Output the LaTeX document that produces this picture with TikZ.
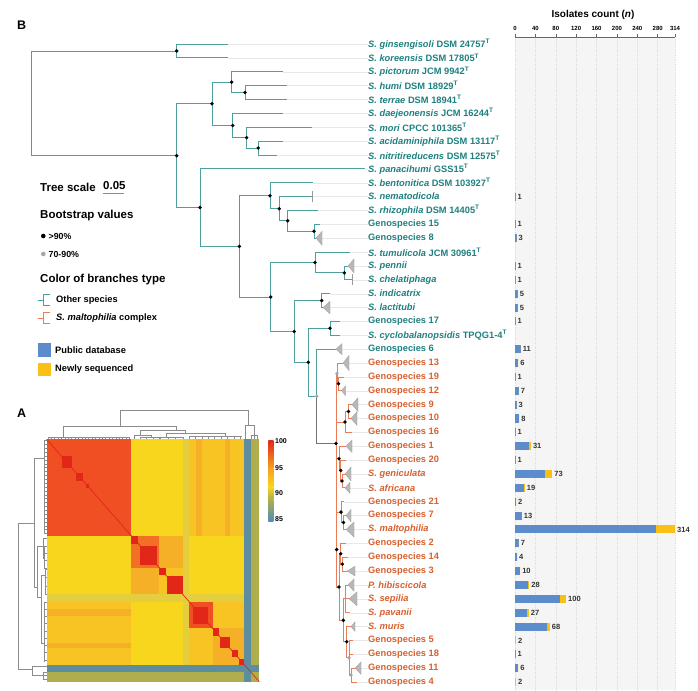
\documentclass[tikz,border=0pt]{standalone}
\usepackage{fontspec}
\setmainfont{Liberation Sans}
\usetikzlibrary{
    positioning,
    calc
}
% Colours
\definecolor{otherbr}{RGB}{78,160,158}
\definecolor{othertxt}{RGB}{30,128,126}
\definecolor{cplxbr}{RGB}{234,124,88}
\definecolor{cplxtxt}{RGB}{214,96,46}
\definecolor{pubblue}{RGB}{92,140,204}
\definecolor{newyellow}{RGB}{250,192,22}
\definecolor{hmred}{RGB}{240,78,35}
\definecolor{hmdeep}{RGB}{226,38,24}
\definecolor{hmorange}{RGB}{242,112,38}
\definecolor{hmorangelt}{RGB}{246,176,40}
\definecolor{hmamber}{RGB}{247,196,36}
\definecolor{hmyellow}{RGB}{249,214,30}
\definecolor{hmpale}{RGB}{228,206,62}
\definecolor{hmolive}{RGB}{176,174,76}
\definecolor{hmblue}{RGB}{92,142,160}
\definecolor{cbblue}{RGB}{80,140,190}
\definecolor{cborange}{RGB}{245,160,30}
\tikzset{
    % Tree
    other branch/.style={draw=otherbr,line width=.8pt},
    complex branch/.style={draw=cplxbr,line width=.7pt},
    stem branch/.style={draw=black!55,line width=.8pt},
    guide/.style={draw=black!9,line width=.3pt},
    collapsed/.style={fill=black!28,draw=black!40,line width=.25pt},
    %
    % Labels
    leaf label/.style={anchor=west},
    other label/.style={leaf label,text=othertxt},
    complex label/.style={leaf label,text=cplxtxt},
    count label/.style={anchor=west,text=black!80,font=\bfseries\fontsize{7.5}{8}\selectfont},
    tick label/.style={font=\bfseries\fontsize{6}{7}\selectfont},
    legend head/.style={anchor=west,font=\bfseries\fontsize{11.5}{13}\selectfont},
    legend item/.style={anchor=west,font=\bfseries\fontsize{9.3}{11}\selectfont},
    panel label/.style={font=\bfseries\fontsize{12.5}{14}\selectfont},
    %
    % Bars
    public bar/.style={fill=pubblue},
    new bar/.style={fill=newyellow},
    bar grid/.style={draw=black!12,line width=.4pt,dash pattern=on 1.5pt off 1pt},
    %
    % Heatmap
    dendro/.style={draw=black!45,line width=.4pt}
}
\tikzstyle{every node}=[font=\bfseries\fontsize{9.3}{11}\selectfont,inner sep=0pt]
\newcommand\bx{0.5096}
\newcommand\symblock[5]{\fill[#1] (#2,#4) rectangle (#3,#5); \fill[#1] (#4,#2) rectangle (#5,#3);}
\newcommand\elbow[5]{\draw[dendro] (#1,#2) -- (#1,#5) -- (#3,#5) -- (#3,#4);}
\newcommand\dendrolines{%
    \elbow{0.345}{12.7}{0.948}{14.5}{29}
    \elbow{0.078}{2.5}{0.61}{9.3}{12.7}
    \draw[dendro] (0.005,2.5) -- (0.39,2.5);
    \foreach \t in {0.005,0.021,...,0.39} \draw[dendro] (\t,2.5) -- (\t,0);
    \elbow{0.44}{4}{0.65}{6}{9.3}
    \elbow{0.41}{0}{0.49}{2.5}{4}
    \draw[dendro] (0.44,2.5) -- (0.53,2.5);
    \foreach \t in {0.44,0.47,0.50,0.53} \draw[dendro] (\t,2.5) -- (\t,0);
    \elbow{0.56}{2}{0.84}{3}{6}
    \draw[dendro] (0.535,2) -- (0.64,2);
    \foreach \t in {0.535,0.57,0.605,0.64} \draw[dendro] (\t,2) -- (\t,0);
    \draw[dendro] (0.67,3) -- (0.92,3);
    \foreach \t in {0.67,0.7,...,0.92} \draw[dendro] (\t,3) -- (\t,0);
    \elbow{0.935}{0}{0.975}{4}{14.5}
    \draw[dendro] (0.96,4) -- (0.99,4);
    \foreach \t in {0.96,0.975,0.99} \draw[dendro] (\t,4) -- (\t,0);
}

\begin{document}
\begin{tikzpicture}[x=1pt,y=-1pt]
    \useasboundingbox (0,0) rectangle (698,690);

    % Bar chart frame
    \fill[black!4] (515,37) rectangle (675,690);
    \foreach \v in {0,40,80,120,160,200,240,280,314}{
        \draw[bar grid] (515+\v*\bx,37) -- (515+\v*\bx,690);
        \draw[black!60,line width=.5pt] (515+\v*\bx,37) -- (515+\v*\bx,34.5);
        \node[tick label] (tick\v) at (515+\v*\bx,28) {\v};
    }
    \draw[black!60,line width=.6pt] (515,37) -- (675,37);
    \node[font=\bfseries\fontsize{10}{12}\selectfont] (xtitle) at (593,15) {Isolates count (\textit{n})};

    \begin{scope}[shift={(0,44)},y=-13.87pt]
        % Internal nodes (x in px, y in rows)
        \coordinate (R0) at (31.7,4.28);
        \coordinate (A) at (176.7,0.5);
        \coordinate (B) at (176.7,8.05);
        \coordinate (C) at (212,4.31);
        \coordinate (C1) at (231.7,2.75);
        \coordinate (C1a) at (245,3.5);
        \coordinate (C2) at (232.7,5.875);
        \coordinate (C2a) at (246.7,6.75);
        \coordinate (C2b) at (258.3,7.5);
        \coordinate (D) at (200,11.79);
        \coordinate (D2) at (239.3,14.59);
        \coordinate (E) at (270,10.94);
        \coordinate (E2) at (279.3,11.875);
        \coordinate (E3) at (287.7,12.75);
        \coordinate (E4) at (314,13.5);
        \coordinate (F) at (270.7,18.24);
        \coordinate (G) at (315,15.75);
        \coordinate (G2) at (344.3,16.5);
        \coordinate (H) at (294.3,20.73);
        \coordinate (I) at (321.7,18.5);
        \coordinate (K) at (308.3,22.95);
        \coordinate (J) at (330,20.5);
        \coordinate (L) at (316.7,25.4);
        \coordinate (M) at (336,28.8);
        \coordinate (N1) at (337,23.75);
        \coordinate (N2) at (338.5,24.5);
        \coordinate (N3) at (348.5,26.5);
        \coordinate (N4) at (345,27.25);
        \coordinate (Q1) at (339,29.9);
        \coordinate (Q2) at (340.7,30.75);
        \coordinate (Q3) at (342,31.5);
        \coordinate (Q5) at (341,33.75);
        \coordinate (Q7) at (343.5,34.5);
        \coordinate (Q6) at (336.7,36.45);
        \coordinate (Q8) at (340.7,36.75);
        \coordinate (Q8b) at (342.3,37.5);
        \coordinate (Q9) at (339,39.15);
        \coordinate (Q10) at (343.3,41.55);
        \coordinate (Q11) at (345,40);
        \coordinate (Q12) at (346.7,43.1);
        \coordinate (Q13) at (349,44.25);
        \coordinate (Q14) at (351,45.5);

        % Leaf ends
        \foreach \r/\x in {0/228,1/228,2/282.7,3/286.7,4/287,5/282.7,6/311.7,7/282.7,8/277,
            9/365,10/312.7,11/312.7,12/318,13/320,14/316,15/350,16/348,17/352,18/330,19/323,
            20/340,21/340,22/336,23/343,24/344,25/341.5,26/352,27/351,28/352,29/346,30/346,
            31/345,32/345,33/344,34/346,35/346,36/346,37/348,38/347,39/348,40/349,41/350,
            42/351,43/353,44/353,45/355,46/357}
            \coordinate (e\r) at (\x,\r);

        % Leaf labels
        \foreach \r/\txt in {
            0/{\textit{S. ginsengisoli} DSM 24757\textsuperscript{T}},
            1/{\textit{S. koreensis} DSM 17805\textsuperscript{T}},
            2/{\textit{S. pictorum} JCM 9942\textsuperscript{T}},
            3/{\textit{S. humi} DSM 18929\textsuperscript{T}},
            4/{\textit{S. terrae} DSM 18941\textsuperscript{T}},
            5/{\textit{S. daejeonensis} JCM 16244\textsuperscript{T}},
            6/{\textit{S. mori} CPCC 101365\textsuperscript{T}},
            7/{\textit{S. acidaminiphila} DSM 13117\textsuperscript{T}},
            8/{\textit{S. nitritireducens} DSM 12575\textsuperscript{T}},
            9/{\textit{S. panacihumi} GSS15\textsuperscript{T}},
            10/{\textit{S. bentonitica} DSM 103927\textsuperscript{T}},
            11/{\textit{S. nematodicola}},
            12/{\textit{S. rhizophila} DSM 14405\textsuperscript{T}},
            13/{Genospecies 15},
            14/{Genospecies 8},
            15/{\textit{S. tumulicola} JCM 30961\textsuperscript{T}},
            16/{\textit{S. pennii}},
            17/{\textit{S. chelatiphaga}},
            18/{\textit{S. indicatrix}},
            19/{\textit{S. lactitubi}},
            20/{Genospecies 17},
            21/{\textit{S. cyclobalanopsidis} TPQG1-4\textsuperscript{T}},
            22/{Genospecies 6}}
            \node[other label] (lab\r) at (368,\r) {\txt};
        \foreach \r/\txt in {
            23/{Genospecies 13}, 24/{Genospecies 19}, 25/{Genospecies 12},
            26/{Genospecies 9}, 27/{Genospecies 10}, 28/{Genospecies 16},
            29/{Genospecies 1}, 30/{Genospecies 20}, 31/{\textit{S. geniculata}},
            32/{\textit{S. africana}}, 33/{Genospecies 21}, 34/{Genospecies 7},
            35/{\textit{S. maltophilia}}, 36/{Genospecies 2}, 37/{Genospecies 14},
            38/{Genospecies 3}, 39/{\textit{P. hibiscicola}}, 40/{\textit{S. sepilia}},
            41/{\textit{S. pavanii}}, 42/{\textit{S. muris}}, 43/{Genospecies 5},
            44/{Genospecies 18}, 45/{Genospecies 11}, 46/{Genospecies 4}}
            \node[complex label] (lab\r) at (368,\r) {\txt};

        % Guides from leaf tips to labels
        \foreach \r in {0,...,46}
            \draw[guide] (e\r) -- (lab\r.west);

        % Branches, other species
        \foreach \p/\c in {R0/A,R0/B,B/C,B/D,C/C1,C/C2,C1/C1a,C2/C2a,C2a/C2b,D/D2,D2/E,D2/F,
            E/E2,E2/E3,E3/E4,F/G,F/H,G/G2,H/I,H/K,K/J,K/L}
            \draw[other branch] (\p) |- (\c);
        \foreach \r/\p in {0/A,1/A,2/C1,3/C1a,4/C1a,5/C2,6/C2a,7/C2b,8/C2b,9/D,10/E,11/E2,
            12/E3,13/E4,14/E4,15/G,16/G2,17/G2,18/I,19/I,20/J,21/J,22/L}
            \draw[other branch] (\p) |- (e\r);
        \draw[stem branch] (L) |- (M);

        % Branches, S. maltophilia complex
        \foreach \p/\c in {M/N1,M/N4,M/Q1,M/Q6,N1/N2,N4/N3,Q1/Q2,Q2/Q3,Q6/Q5,Q5/Q7,Q6/Q9,
            Q9/Q8,Q8/Q8b,Q9/Q10,Q10/Q11,Q10/Q12,Q12/Q13,Q13/Q14}
            \draw[complex branch] (\p) |- (\c);
        \foreach \r/\p in {23/N1,24/N2,25/N2,26/N3,27/N3,28/N4,29/Q1,30/Q2,31/Q3,32/Q3,33/Q5,
            34/Q7,35/Q7,36/Q8,37/Q8b,38/Q8b,39/Q11,40/Q11,41/Q11,42/Q12,43/Q13,44/Q13,45/Q14,46/Q14}
            \draw[complex branch] (\p) |- (e\r);

        % Collapsed clades
        \foreach \r/\w/\h in {14/6/.5,16/6/.5,19/7/.45,22/6/.4,23/6/.55,25/4/.35,26/6/.5,
            27/6/.5,29/6/.45,31/6/.5,32/5/.4,34/5/.45,35/8/.55,38/8/.35,39/6/.45,40/8/.5,
            42/4/.35,45/6/.45}
            \filldraw[collapsed] (e\r) -- ++(\w,-\h) -- ++(0,2*\h) -- cycle;
        \foreach \r in {11,17}
            \draw[black!40,line width=.6pt] (e\r) ++(0,-.4) -- ++(0,.8);

        % Bootstrap dots
        \foreach \n in {A,B,C,C1,C1a,C2,C2a,C2b,D,D2,E,E2,E3,E4,F,G,G2,H,I,J,K,M,
            N2,N3,N4,Q1,Q2,Q3,Q5,Q6,Q7,Q8,Q8b,Q9,Q10,Q12}
            \fill (\n) circle[radius=1.9pt];
        \foreach \n in {L,N1,Q13,Q14}
            \fill[black!35] (\n) circle[radius=1.9pt];

        % Isolate counts
        \foreach \r/\b/\yl/\n in {11/1/0/1,13/1/0/1,14/3/0/3,16/1/0/1,17/1/0/1,18/5/0/5,
            19/5/0/5,20/1/0/1,22/11/0/11,23/6/0/6,24/1/0/1,25/7/0/7,26/3/0/3,27/8/0/8,
            28/1/0/1,29/27/4/31,30/1/0/1,31/59/14/73,32/18/1/19,33/2/0/2,34/13/0/13,
            35/277/37/314,36/7/0/7,37/4/0/4,38/10/0/10,39/26/2/28,40/88/12/100,41/24/3/27,
            42/63/5/68,43/0/2/2,44/1/0/1,45/6/0/6,46/0/2/2}{
            \fill[public bar] (515,{\r-.29}) rectangle ++({\b*\bx},.58);
            \fill[new bar] ({515+\b*\bx},{\r-.29}) rectangle ++({\yl*\bx},.58);
            \node[count label] (cnt\r) at ({517+(\b+\yl)*\bx},\r) {\n};
        }
    \end{scope}

    % Legend of panel B
    \node[panel label] (labB) at (21.7,25) {B};
    \node[legend head] (tscale) at (40,187) {Tree scale};
    \node[legend head] (tsval) at (103,186) {0.05};
    \draw[black!45,line width=1.4pt] (103,193.5) -- (124,193.5);
    \node[legend head] (boot) at (40,216) {Bootstrap values};
    \fill (43.3,236) circle[radius=2.3pt];
    \node[legend item,font=\bfseries\fontsize{8.8}{10}\selectfont] (bhigh) at (48.5,236) {>90\%};
    \fill[black!35] (43.3,254) circle[radius=2.3pt];
    \node[legend item,font=\bfseries\fontsize{8.8}{10}\selectfont] (bmid) at (48.5,254) {70-90\%};
    \node[legend head] (brtype) at (40,280) {Color of branches type};
    \draw[other branch] (37.7,300) -- (43,300) (50,294.5) -- (43,294.5) -- (43,305.5) -- (50,305.5);
    \node[legend item] (oth) at (56,300) {Other species};
    \draw[complex branch] (37.7,318.3) -- (43,318.3) (50,312.8) -- (43,312.8) -- (43,323.8) -- (50,323.8);
    \node[legend item] (cpx) at (56,318.3) {\textit{S. maltophilia} complex};
    \fill[public bar] (37.7,343) rectangle (51,357);
    \node[legend item] (pub) at (55,350) {Public database};
    \fill[new bar] (37.7,362.7) rectangle (51,376);
    \node[legend item] (nseq) at (55,369.3) {Newly sequenced};

    % Panel A heatmap
    \node[panel label] (labA) at (21.7,413) {A};
    \begin{scope}[shift={(46.7,439.3)},x=212.6pt,y=-242.4pt]
        \fill[hmyellow] (0,0) rectangle (1,1);
        \symblock{hmamber}{0.67}{0.93}{0}{0.397}
        \symblock{hmorangelt}{0.53}{0.64}{0.397}{0.53}
        \symblock{hmamber}{0.78}{0.93}{0.67}{0.78}
        \symblock{hmorangelt}{0.70}{0.73}{0}{0.397}
        \symblock{hmorangelt}{0.84}{0.86}{0}{0.397}
        \fill[hmpale] (0,0.64) rectangle (0.93,0.67);
        \fill[hmpale] (0.64,0) rectangle (0.67,0.93);
        \fill[hmred] (0,0) rectangle (0.397,0.397);
        \fill[hmorange] (0.397,0.397) rectangle (0.53,0.53);
        \fill[hmamber] (0.53,0.53) rectangle (0.64,0.64);
        \fill[hmred] (0.67,0.67) rectangle (0.78,0.78);
        \fill[hmorangelt] (0.78,0.78) rectangle (0.93,0.93);
        \foreach \a/\b in {0.07/0.12,0.14/0.17,0.185/0.2,0.397/0.43,0.44/0.52,0.53/0.56,
            0.565/0.64,0.69/0.76,0.78/0.81,0.815/0.86,0.87/0.9,0.905/0.93}
            \fill[hmdeep] (\a,\a) rectangle (\b,\b);
        \fill[hmolive] (0.96,0) rectangle (1,1);
        \fill[hmolive] (0,0.96) rectangle (1,1);
        \fill[hmblue] (0.93,0) rectangle (0.96,1);
        \fill[hmblue] (0,0.93) rectangle (1,0.96);
        \draw[hmdeep,line width=.7pt] (0,0) -- (1,1);
    \end{scope}
    % Dendrograms
    \begin{scope}[shift={(46.7,439.3)},x=212.6pt,y=1pt]
        \dendrolines
    \end{scope}
    \begin{scope}[shift={(46.7,439.3)},x={(0pt,-242.4pt)},y={(-1pt,0pt)}]
        \dendrolines
    \end{scope}
    % Colour key
    \shade[top color=hmdeep,bottom color=cborange] (268.3,440) rectangle (273.3,468);
    \shade[top color=cborange,bottom color=hmyellow] (268.3,468) rectangle (273.3,487);
    \shade[top color=hmyellow,bottom color=hmolive] (268.3,487) rectangle (273.3,499);
    \shade[top color=hmolive,bottom color=cbblue] (268.3,499) rectangle (273.3,521.7);
    \foreach \v/\y in {100/441,95/468.3,90/493.3,85/519.3}
        \node[anchor=west,font=\bfseries\fontsize{7}{8}\selectfont] (key\v) at (275,\y) {\v};
\end{tikzpicture}
\end{document}
